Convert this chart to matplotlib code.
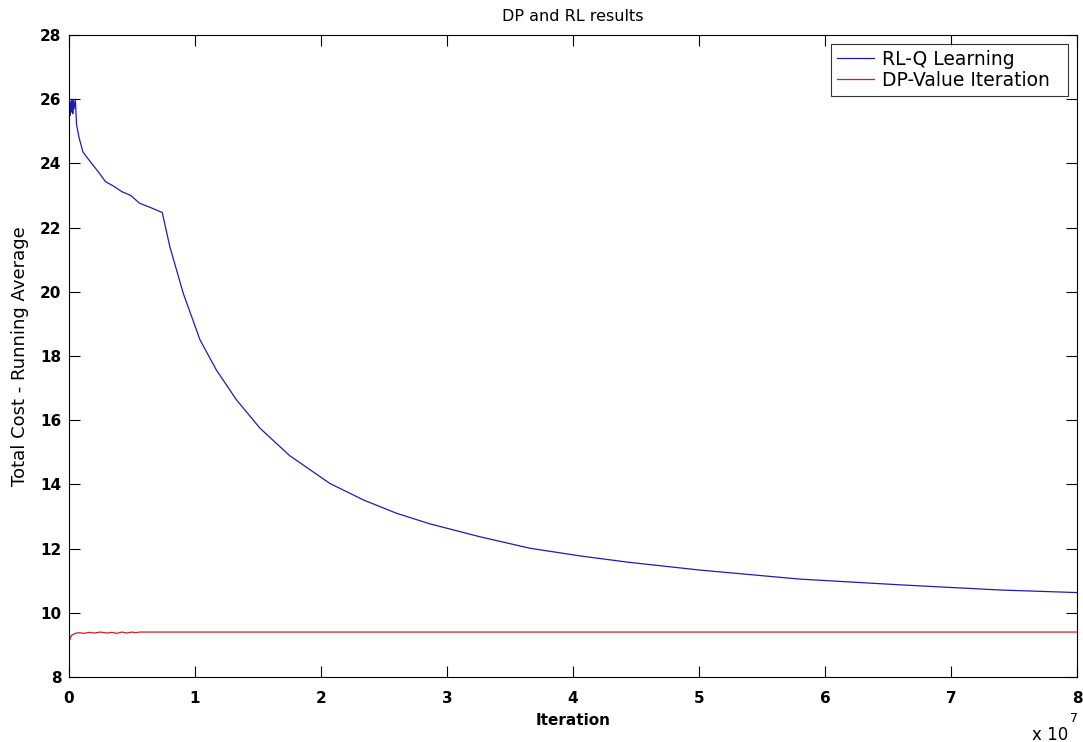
import matplotlib
matplotlib.use("Agg")
import matplotlib.pyplot as plt

plt.rcParams['font.family'] = ['DejaVu Sans']

# x in units of 1e7 iterations
rl_x = [0.0, 0.005, 0.01, 0.015, 0.02, 0.025, 0.03, 0.035, 0.04, 0.05, 0.06, 0.08,
        0.11, 0.14, 0.18, 0.23, 0.29, 0.35, 0.42, 0.49, 0.56, 0.65, 0.74,
        0.80, 0.907, 1.04, 1.17, 1.33, 1.516, 1.75, 2.07, 2.34, 2.60, 2.865,
        3.26, 3.66, 4.06, 4.45, 5.01, 5.80, 6.60, 7.39, 8.0]
rl_y = [25.6, 25.95, 25.5, 25.9, 25.6, 26.0, 25.55, 25.95, 25.7, 26.0, 25.2, 24.8,
        24.36, 24.2, 24.0, 23.75, 23.43, 23.3, 23.12, 23.0, 22.76, 22.62, 22.47,
        21.41, 19.95, 18.5, 17.56, 16.63, 15.75, 14.9, 14.03, 13.51, 13.10, 12.77,
        12.37, 12.01, 11.77, 11.57, 11.33, 11.05, 10.87, 10.71, 10.63]

dp_x = [0.0, 0.02, 0.05, 0.08, 0.12, 0.16, 0.2, 0.25, 0.3, 0.34, 0.38, 0.42, 0.46,
        0.5, 0.53, 0.56, 1.0, 8.0]
dp_y = [9.1, 9.3, 9.36, 9.38, 9.36, 9.39, 9.37, 9.40, 9.37, 9.39, 9.36, 9.40, 9.37,
        9.40, 9.38, 9.40, 9.40, 9.40]

series_labels = ['RL-Q Learning', 'DP-Value Iteration']

fig = plt.figure(figsize=(10.83, 7.42), dpi=100)
ax = fig.add_axes([69/1083, 65/742, (1077-69)/1083, (677-35)/742])
ax.plot(rl_x, rl_y, color='#1c1cb8', lw=0.9, label=series_labels[0] + '  ')
ax.plot(dp_x, dp_y, color='#cc1f2a', lw=0.9, label=series_labels[1] + '  ')

ax.set_xlim(0, 8)
ax.set_ylim(8, 28)
ax.set_xticks(range(0, 9))
ax.set_yticks(range(8, 29, 2))
ax.tick_params(direction='in', length=8, width=0.8, top=True, right=True,
               labelsize=11)
ax.tick_params(axis='x', pad=10)
ax.tick_params(axis='y', pad=5.5)
for lab in ax.get_xticklabels() + ax.get_yticklabels():
    lab.set_fontweight('bold')
for s in ax.spines.values():
    s.set_linewidth(0.8)

ax.set_title('DP and RL results', fontsize=11.5, pad=10)
ax.set_xlabel('Iteration', fontsize=11, fontweight='bold', labelpad=5)
ax.set_ylabel('Total Cost - Running Average', fontsize=13, labelpad=8)
fig.text(1068/1083, 1 - 735/742, 'x 10', ha='right', va='center', fontsize=12)
fig.text(1070/1083, 1 - 718/742, '7', ha='left', va='center', fontsize=9)

leg = ax.legend(loc='upper right', fontsize=13.5, frameon=True, fancybox=False,
                edgecolor='black', bbox_to_anchor=(1068/1083, 1 - 44/742),
                bbox_transform=fig.transFigure, borderaxespad=0,
                handlelength=2.0, handletextpad=0.43,
                borderpad=0.32, labelspacing=0.1)
leg.get_frame().set_linewidth(0.8)

fig.savefig('out.png', dpi=100)
